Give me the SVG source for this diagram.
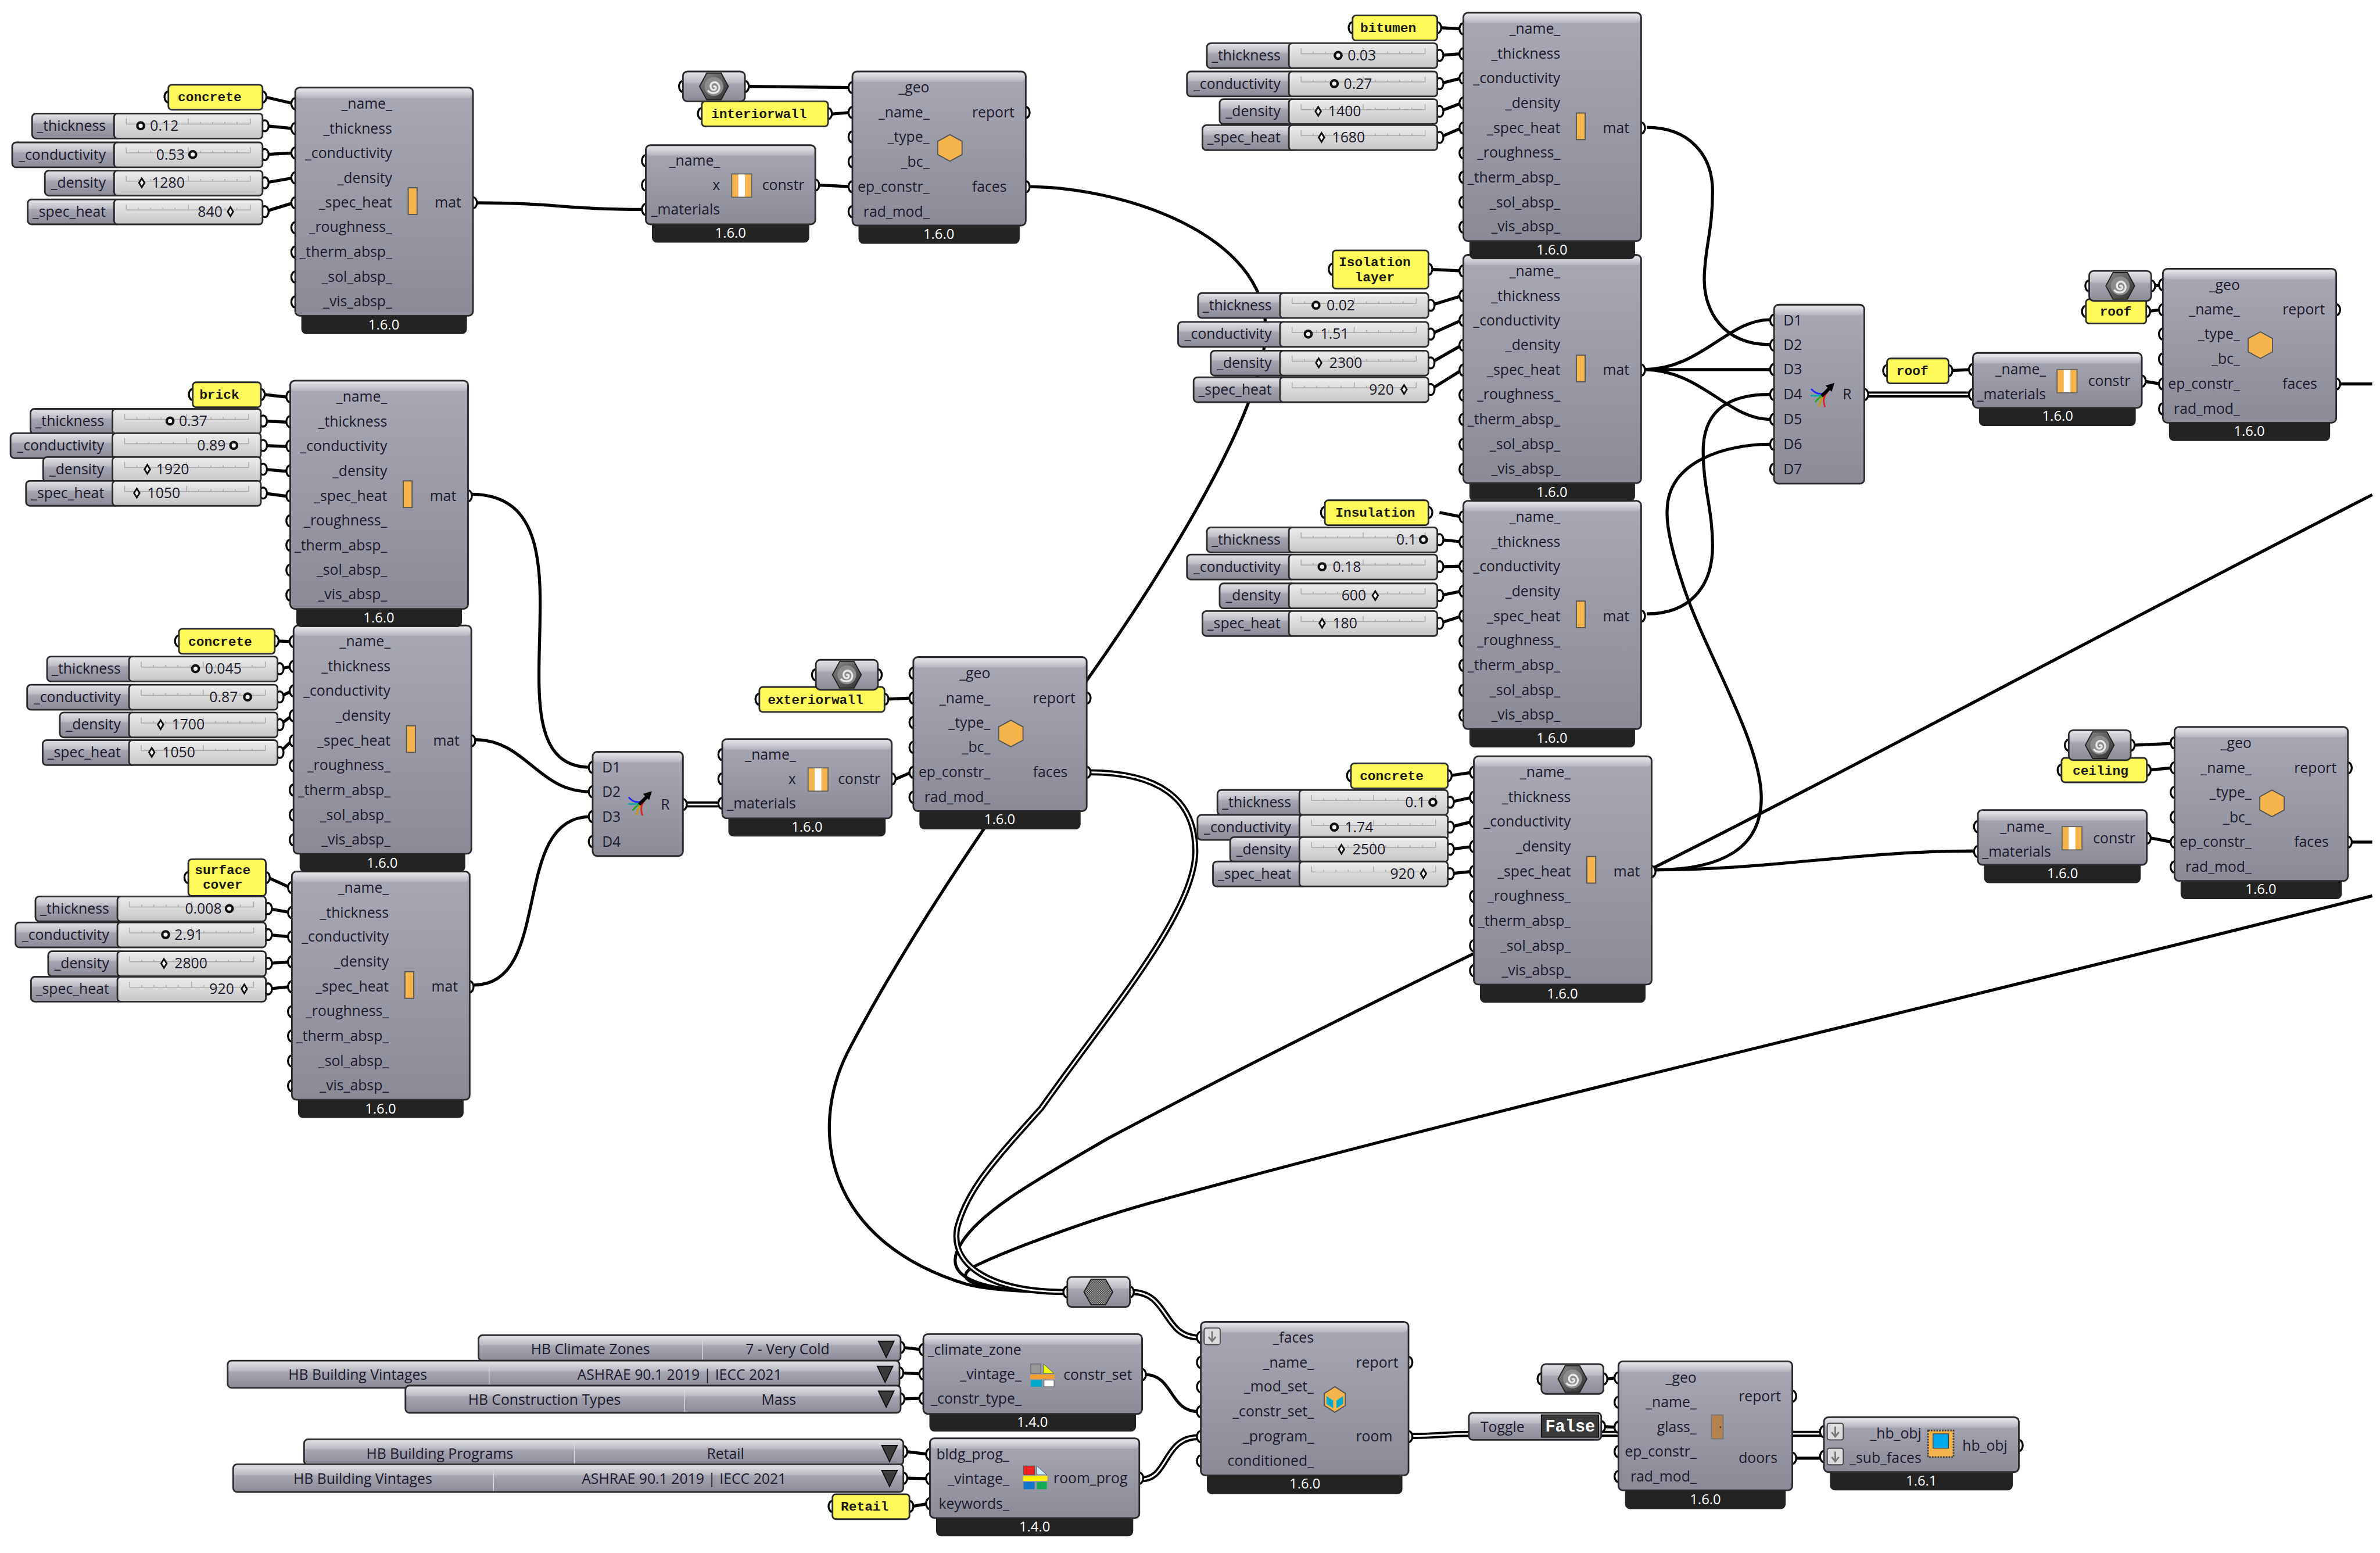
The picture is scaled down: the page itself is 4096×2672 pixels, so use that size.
<svg xmlns="http://www.w3.org/2000/svg" width="4096" height="2672" viewBox="0 0 4096 2672">
<style>
text{font-family:"Open Sans","Liberation Sans",sans-serif;font-size:26px;fill:#1c1a2c}
.e{text-anchor:end}
.m{text-anchor:middle}
.v{text-anchor:middle;fill:#fff;font-size:25px}
.y{font-family:"Liberation Mono","DejaVu Sans Mono",monospace;font-weight:bold;font-size:24px;fill:#1a1a10}
.n{font-size:26px}
.b{fill:url(#body);stroke:#2b2b2e;stroke-width:3}
.h{fill:url(#band)}
.f{fill:#232323;stroke:#232323;stroke-width:2}
.s{fill:url(#small);stroke:#2b2b2e;stroke-width:3}
.l{fill:url(#light);stroke:#2b2b2e;stroke-width:3}
.pn{fill:#fff95a;stroke:#2b2b2e;stroke-width:3}
.p{fill:#fff;stroke:#000;stroke-width:3.5}
.w{fill:none;stroke:#000;stroke-width:5.5}
.wo{fill:none;stroke:#000;stroke-width:11}
.wi{fill:none;stroke:#fff;stroke-width:3}
.o{fill:#f5b54c;stroke:#555;stroke-width:2}
.tk{fill:none;stroke:#a8a8a8;stroke-width:1.5}
.dv{stroke:#d8d8de;stroke-width:1.5}
</style>
<defs>
<linearGradient id="body" x1="0" y1="0" x2="0" y2="1"><stop offset="0" stop-color="#a9a9b6"/><stop offset="1" stop-color="#8b8b98"/></linearGradient>
<linearGradient id="band" x1="0" y1="0" x2="0" y2="1"><stop offset="0" stop-color="#e6e6ea"/><stop offset="1" stop-color="#b4b4bf"/></linearGradient>
<linearGradient id="small" x1="0" y1="0" x2="0" y2="1"><stop offset="0" stop-color="#e4e4e8"/><stop offset=".36" stop-color="#bcbcc5"/><stop offset=".42" stop-color="#a6a6b3"/><stop offset="1" stop-color="#8b8b98"/></linearGradient>
<linearGradient id="light" x1="0" y1="0" x2="0" y2="1"><stop offset="0" stop-color="#ededed"/><stop offset="1" stop-color="#c6c6c6"/></linearGradient>
<linearGradient id="hexg" x1="0" y1="0" x2="1" y2="1"><stop offset="0" stop-color="#8a8a8a"/><stop offset="1" stop-color="#2e2e2e"/></linearGradient>
<pattern id="chk" width="4" height="4" patternUnits="userSpaceOnUse"><rect width="4" height="4" fill="#444"/><rect width="2" height="2" fill="#aaa"/><rect x="2" y="2" width="2" height="2" fill="#999"/></pattern>
<ellipse id="p" class="p" rx="7" ry="10"/>
<circle id="r" r="6" fill="#fff" stroke="#111" stroke-width="4.5"/>
<path id="d" d="M0 -8L5 0L0 8L-5 0Z" fill="#fff" stroke="#111" stroke-width="3"/>
<path id="ticks" class="tk" d="M-246 19H-22M-246 9V19M-224 15V19M-202 15V19M-180 15V19M-158 15V19M-134 9V19M-112 15V19M-90 15V19M-68 15V19M-46 15V19M-22 9V19"/>
<g id="sT"><use href="#p" x="4" y="22"/><rect class="s" x="-416" y="0" width="160" height="45" rx="7"/><rect class="l" x="-268" y="0" width="268" height="45" rx="6"/><use href="#ticks"/></g>
<g id="sC"><use href="#p" x="4" y="22"/><rect class="s" x="-452" y="0" width="196" height="45" rx="7"/><rect class="l" x="-268" y="0" width="268" height="45" rx="6"/><use href="#ticks"/></g>
<g id="sD"><use href="#p" x="4" y="22"/><rect class="s" x="-393" y="0" width="137" height="45" rx="7"/><rect class="l" x="-268" y="0" width="268" height="45" rx="6"/><use href="#ticks"/></g>
<g id="sH"><use href="#p" x="4" y="22"/><rect class="s" x="-424" y="0" width="168" height="45" rx="7"/><rect class="l" x="-268" y="0" width="268" height="45" rx="6"/><use href="#ticks"/></g>
<g id="mb"><use href="#p" x="0" y="29"/><use href="#p" x="0" y="74"/><use href="#p" x="0" y="118"/><use href="#p" x="0" y="163"/><use href="#p" x="0" y="208"/><use href="#p" x="0" y="253"/><use href="#p" x="0" y="297"/><use href="#p" x="0" y="342"/><use href="#p" x="0" y="387"/><use href="#p" x="321" y="208"/>
<rect class="f" x="12" y="400" width="297" height="44" rx="8"/><rect class="b" width="321" height="412" rx="8"/><rect class="h" x="2" y="2" width="317" height="17" rx="6"/><rect class="o" x="204" y="181" width="16" height="48"/></g>
<g id="fb"><use href="#p" x="0" y="29"/><use href="#p" x="0" y="74"/><use href="#p" x="0" y="118"/><use href="#p" x="0" y="163"/><use href="#p" x="0" y="208"/><use href="#p" x="0" y="253"/><use href="#p" x="313" y="74"/><use href="#p" x="313" y="208"/>
<rect class="f" x="12" y="270" width="289" height="40" rx="8"/><rect class="b" width="313" height="278" rx="8"/><rect class="h" x="2" y="2" width="309" height="17" rx="6"/><path class="o" d="M176 114L198 126V150L176 162L154 150V126Z"/></g>
<g id="ci"><rect x="-18" y="-21" width="36" height="42" fill="#f5b54c" stroke="#666" stroke-width="2"/><rect x="-6" y="-20" width="12" height="40" fill="#fff"/></g>
<g id="cb"><use href="#p" x="0" y="28"/><use href="#p" x="0" y="72"/><use href="#p" x="0" y="116"/><use href="#p" x="306" y="72"/><rect class="f" x="12" y="135" width="282" height="40" rx="8"/><rect class="b" width="306" height="143" rx="8"/><rect class="h" x="2" y="2" width="302" height="17" rx="6"/><use href="#ci" x="173" y="73"/></g>
<g id="cs"><use href="#p" x="0" y="30"/><use href="#p" x="0" y="75"/><use href="#p" x="305" y="51"/><rect class="f" x="12" y="91" width="281" height="40" rx="8"/><rect class="b" width="305" height="99" rx="8"/><rect class="h" x="2" y="2" width="301" height="17" rx="6"/><use href="#ci" x="170" y="51"/></g>
<g id="sp"><path d="M-26 0L-13 -24H13L26 0L13 24H-13Z" fill="url(#hexg)" stroke="#222" stroke-width="2"/><circle r="17" fill="#8c8c8c"/><path d="M-1 1C3 -3 6 4 1 6C-6 8 -9 -3 -2 -7C6 -10 12 -1 9 6C6 13 -6 14 -11 7" fill="none" stroke="#e8e8e8" stroke-width="3.5"/></g>
<g id="gp"><use href="#p" x="0" y="27"/><use href="#p" x="112" y="27"/><rect class="s" width="112" height="54" rx="8"/><use href="#sp" x="56" y="27"/></g>
<path id="tri" d="M-14 0H14L0 29Z" fill="#3a3a3a" stroke="#111" stroke-width="2"/>
<g id="ar"><rect width="29" height="30" rx="4" fill="#dcdcdc" stroke="#444" stroke-width="2"/><path d="M14.500 6V23M8 16L14.500 24L21 16" fill="none" stroke="#777" stroke-width="3"/></g>
<g id="mi"><path d="M-17 -8Q-5 6 12 -2" fill="none" stroke="#22f" stroke-width="3"/><path d="M-18 4Q0 6 12 -2" fill="none" stroke="#1aa" stroke-width="3"/><path d="M-10 16Q0 4 12 -2" fill="none" stroke="#2a2" stroke-width="3"/><path d="M-3 24Q0 8 12 -2" fill="none" stroke="#c90" stroke-width="3"/><path d="M8 25Q2 8 12 -2" fill="none" stroke="#d22" stroke-width="3"/><path d="M2 5L18 -11" stroke="#000" stroke-width="6"/><path d="M25 -19L9 -14L20 -3Z"/></g>
<path id="w1" d="M1237 1452H1300"/>
<path id="w2" d="M3370 712H3558"/>
<path id="w3" d="M1965 1394C2090 1394 2160 1440 2158 1540C2155 1650 2000 1830 1880 2000C1790 2100 1745 2150 1728 2217C1715 2290 1800 2332 1922 2332"/>
<path id="w4" d="M2044 2332C2110 2332 2100 2414 2164 2414"/>
<path id="w5" d="M2061 2670C2110 2670 2100 2594 2164 2594"/>
<path id="w6" d="M2549 2592C2600 2592 2600 2588 2660 2588H3293"/>
</defs>
<rect width="4096" height="2672" fill="#fff"/>
<g transform="scale(.95322)">
<g id="connectors">
<path class="w" d="M478 175L530 187M478 227L530 232M478 279L530 276M478 330L530 321M478 382L530 366M475 712L520 717M475 760L520 762M475 804L520 806M475 847L520 851M475 890L520 896M500 1157L527 1158M505 1207L527 1203M505 1258L527 1247M505 1308L527 1292M505 1358L527 1337M484 1584L524 1602M484 1640L524 1647M484 1687L524 1691M484 1739L524 1736M484 1785L524 1781"/>
<path class="w" d="M2599 50L2639 52M2599 100L2639 97M2599 151L2639 141M2599 201L2639 186M2599 248L2639 231M2583 486L2639 489M2583 551L2639 534M2583 603L2639 578M2583 655L2639 623M2583 703L2639 668M2599 925L2639 933M2599 974L2639 978M2599 1023L2639 1022M2599 1075L2639 1067M2599 1125L2639 1112M2618 1400L2658 1394M2618 1448L2658 1439M2618 1493L2658 1483M2618 1533L2658 1528M2618 1577L2658 1573"/>
<path class="w" d="M1630 2432L1664 2436M1628 2478L1664 2480M1630 2525L1664 2524M1635 2620L1676 2625M1635 2668L1676 2669M1646 2719L1676 2714"/>
<path class="w" d="M1349 156L1535 158M1499 206L1535 203M1477 334L1535 337M1601 1262L1645 1260M1613 1408L1645 1394M3522 669L3558 667M3871 688L3901 693M3887 516L3901 515M3879 562L3901 559M3852 1345L3922 1342M3880 1390L3922 1386M3880 1512L3922 1520M2900 2489L2918 2487M2895 2575L2918 2576M3240 2632H3293M4222 693H4283M4243 1520H4283"/>
<path class="w" d="M858 366C1000 366 1020 378 1162 378"/>
<path class="w" d="M851 892C1100 892 860 1385 1066 1385"/>
<path class="w" d="M857 1335C950 1335 970 1429 1066 1429"/>
<path class="w" d="M856 1778C1000 1778 920 1474 1066 1474"/>
<path class="w" d="M1856 337C2020 337 2290 420 2285 600C2280 760 2060 1090 1963 1227C1850 1390 1660 1650 1530 1900C1460 2040 1490 2240 1745 2318C1790 2330 1860 2332 1922 2332"/>
<path class="w" d="M2973 230C3050 230 3092 280 3092 345C3092 420 3077 450 3077 505C3077 560 3110 622 3195 622"/>
<path class="w" d="M2968 667C3070 667 3120 577 3195 577M2968 667H3195M2968 667C3070 667 3120 757 3195 757"/>
<path class="w" d="M2973 1108C3050 1108 3092 1060 3092 985C3092 920 3075 880 3075 815C3075 750 3110 712 3195 712"/>
<path class="w" d="M2988 1570C3110 1570 3180 1530 3180 1440C3180 1340 3080 1180 3040 1060C3020 1000 3008 950 3010 920C3012 830 3120 802 3195 802"/>
<path class="w" d="M2988 1570C3200 1570 3350 1536 3567 1536"/>
<path class="w" d="M4283 893C3800 1140 3300 1410 2988 1565C2700 1700 2300 1895 2000 2055C1880 2125 1770 2185 1735 2245C1700 2300 1750 2332 1922 2332"/>
<path class="w" d="M4283 1617C3500 1815 2700 2000 2100 2165C1950 2205 1800 2265 1755 2288C1720 2310 1760 2332 1922 2332"/>
<path class="w" d="M2066 2481C2120 2481 2110 2548 2164 2548"/>
<use href="#w1" class="wo"/><use href="#w1" class="wi"/>
<use href="#w2" class="wo"/><use href="#w2" class="wi"/>
<use href="#w3" class="wo"/><use href="#w3" class="wi"/>
<use href="#w4" class="wo"/><use href="#w4" class="wi"/>
<use href="#w5" class="wo"/><use href="#w5" class="wi"/>
<use href="#w6" class="wo"/><use href="#w6" class="wi"/>
</g>

<g id="panel-concrete-1"><use href="#p" x="304" y="175"/><use href="#p" x="474" y="175"/><rect class="pn" x="304" y="153" width="170" height="45" rx="6"/><text class="y" x="321" y="183">concrete</text></g>
<g id="s1" ><g transform="translate(474,205)"><use href="#sT"/><text class="e n" x="-283" y="31">_thickness</text><use href="#r" x="-220" y="22"/><text class="n" x="-203" y="31">0.12</text></g>
<g transform="translate(474,257)"><use href="#sC"/><text class="e n" x="-283" y="31">_conductivity</text><text class="n" x="-192" y="31">0.53</text><use href="#r" x="-126" y="22"/></g>
<g transform="translate(474,308)"><use href="#sD"/><text class="e n" x="-283" y="31">_density</text><use href="#d" x="-218" y="22"/><text class="n" x="-200" y="31">1280</text></g>
<g transform="translate(474,360)"><use href="#sH"/><text class="e n" x="-283" y="31">_spec_heat</text><text class="n" x="-117" y="31">840</text><use href="#d" x="-58" y="22"/></g></g>
<g id="mat-1" transform="translate(533,158)"><use href="#mb"/><text class="e" x="175" y="38">_name_</text><text class="e" x="175" y="83">_thickness</text><text class="e" x="175" y="127">_conductivity</text><text class="e" x="175" y="172">_density</text><text class="e" x="175" y="217">_spec_heat</text><text class="e" x="175" y="261">_roughness_</text><text class="e" x="175" y="306">_therm_absp_</text><text class="e" x="175" y="351">_sol_absp_</text><text class="e" x="175" y="395">_vis_absp_</text><text x="252" y="217">mat</text><text class="v" x="160" y="437">1.6.0</text></g>

<g id="mat-4" transform="translate(527,1573)"><use href="#mb"/><text class="e" x="175" y="38">_name_</text><text class="e" x="175" y="83">_thickness</text><text class="e" x="175" y="127">_conductivity</text><text class="e" x="175" y="172">_density</text><text class="e" x="175" y="217">_spec_heat</text><text class="e" x="175" y="261">_roughness_</text><text class="e" x="175" y="306">_therm_absp_</text><text class="e" x="175" y="351">_sol_absp_</text><text class="e" x="175" y="395">_vis_absp_</text><text x="252" y="217">mat</text><text class="v" x="160" y="437">1.6.0</text></g>
<g id="mat-3" transform="translate(530,1129)"><use href="#mb"/><text class="e" x="175" y="38">_name_</text><text class="e" x="175" y="83">_thickness</text><text class="e" x="175" y="127">_conductivity</text><text class="e" x="175" y="172">_density</text><text class="e" x="175" y="217">_spec_heat</text><text class="e" x="175" y="261">_roughness_</text><text class="e" x="175" y="306">_therm_absp_</text><text class="e" x="175" y="351">_sol_absp_</text><text class="e" x="175" y="395">_vis_absp_</text><text x="252" y="217">mat</text><text class="v" x="160" y="437">1.6.0</text></g>
<g id="mat-2" transform="translate(524,687)"><use href="#mb"/><text class="e" x="175" y="38">_name_</text><text class="e" x="175" y="83">_thickness</text><text class="e" x="175" y="127">_conductivity</text><text class="e" x="175" y="172">_density</text><text class="e" x="175" y="217">_spec_heat</text><text class="e" x="175" y="261">_roughness_</text><text class="e" x="175" y="306">_therm_absp_</text><text class="e" x="175" y="351">_sol_absp_</text><text class="e" x="175" y="395">_vis_absp_</text><text x="252" y="217">mat</text><text class="v" x="160" y="437">1.6.0</text></g>

<g id="panel-brick"><use href="#p" x="348" y="712"/><use href="#p" x="471" y="712"/><rect class="pn" x="348" y="690" width="123" height="45" rx="6"/><text class="y" x="360" y="720">brick</text></g>
<g id="s2"><g transform="translate(471,738)"><use href="#sT"/><text class="e n" x="-283" y="31">_thickness</text><use href="#r" x="-164" y="22"/><text class="n" x="-148" y="31">0.37</text></g>
<g transform="translate(471,782)"><use href="#sC"/><text class="e n" x="-283" y="31">_conductivity</text><text class="n" x="-115" y="31">0.89</text><use href="#r" x="-49" y="22"/></g>
<g transform="translate(471,825)"><use href="#sD"/><text class="e n" x="-283" y="31">_density</text><use href="#d" x="-205" y="22"/><text class="n" x="-189" y="31">1920</text></g>
<g transform="translate(471,868)"><use href="#sH"/><text class="e n" x="-283" y="31">_spec_heat</text><use href="#d" x="-224" y="22"/><text class="n" x="-205" y="31">1050</text></g></g>

<g id="panel-concrete-3"><use href="#p" x="323" y="1157"/><use href="#p" x="496" y="1157"/><rect class="pn" x="323" y="1135" width="173" height="45" rx="6"/><text class="y" x="340" y="1165">concrete</text></g>
<g id="s3"><g transform="translate(501,1185)"><use href="#sT"/><text class="e n" x="-283" y="31">_thickness</text><use href="#r" x="-148" y="22"/><text class="n" x="-131" y="31">0.045</text></g>
<g transform="translate(501,1236)"><use href="#sC"/><text class="e n" x="-283" y="31">_conductivity</text><text class="n" x="-123" y="31">0.87</text><use href="#r" x="-54" y="22"/></g>
<g transform="translate(501,1286)"><use href="#sD"/><text class="e n" x="-283" y="31">_density</text><use href="#d" x="-211" y="22"/><text class="n" x="-191" y="31">1700</text></g>
<g transform="translate(501,1336)"><use href="#sH"/><text class="e n" x="-283" y="31">_spec_heat</text><use href="#d" x="-227" y="22"/><text class="n" x="-208" y="31">1050</text></g></g>

<g id="panel-surface"><use href="#p" x="340" y="1584"/><use href="#p" x="480" y="1584"/><rect class="pn" x="340" y="1551" width="140" height="66" rx="6"/><text class="y m" x="402" y="1578">surface</text><text class="y m" x="402" y="1604">cover</text></g>
<g id="s4"><g transform="translate(480,1618)"><use href="#sT"/><text class="e n" x="-283" y="31">_thickness</text><text class="n" x="-146" y="31">0.008</text><use href="#r" x="-66" y="22"/></g>
<g transform="translate(480,1665)"><use href="#sC"/><text class="e n" x="-283" y="31">_conductivity</text><use href="#r" x="-181" y="22"/><text class="n" x="-165" y="31">2.91</text></g>
<g transform="translate(480,1717)"><use href="#sD"/><text class="e n" x="-283" y="31">_density</text><use href="#d" x="-184" y="22"/><text class="n" x="-165" y="31">2800</text></g>
<g transform="translate(480,1763)"><use href="#sH"/><text class="e n" x="-283" y="31">_spec_heat</text><text class="n" x="-102" y="31">920</text><use href="#d" x="-39" y="22"/></g></g>

<g id="mat-8" transform="translate(2661,1365)"><use href="#mb"/><text class="e" x="175" y="38">_name_</text><text class="e" x="175" y="83">_thickness</text><text class="e" x="175" y="127">_conductivity</text><text class="e" x="175" y="172">_density</text><text class="e" x="175" y="217">_spec_heat</text><text class="e" x="175" y="261">_roughness_</text><text class="e" x="175" y="306">_therm_absp_</text><text class="e" x="175" y="351">_sol_absp_</text><text class="e" x="175" y="395">_vis_absp_</text><text x="252" y="217">mat</text><text class="v" x="160" y="437">1.6.0</text></g>
<g id="mat-7" transform="translate(2642,904)"><use href="#mb"/><text class="e" x="175" y="38">_name_</text><text class="e" x="175" y="83">_thickness</text><text class="e" x="175" y="127">_conductivity</text><text class="e" x="175" y="172">_density</text><text class="e" x="175" y="217">_spec_heat</text><text class="e" x="175" y="261">_roughness_</text><text class="e" x="175" y="306">_therm_absp_</text><text class="e" x="175" y="351">_sol_absp_</text><text class="e" x="175" y="395">_vis_absp_</text><text x="252" y="217">mat</text><text class="v" x="160" y="437">1.6.0</text></g>
<g id="mat-6" transform="translate(2642,460)"><use href="#mb"/><text class="e" x="175" y="38">_name_</text><text class="e" x="175" y="83">_thickness</text><text class="e" x="175" y="127">_conductivity</text><text class="e" x="175" y="172">_density</text><text class="e" x="175" y="217">_spec_heat</text><text class="e" x="175" y="261">_roughness_</text><text class="e" x="175" y="306">_therm_absp_</text><text class="e" x="175" y="351">_sol_absp_</text><text class="e" x="175" y="395">_vis_absp_</text><text x="252" y="217">mat</text><text class="v" x="160" y="437">1.6.0</text></g>
<g id="mat-5" transform="translate(2642,23)"><use href="#mb"/><text class="e" x="175" y="38">_name_</text><text class="e" x="175" y="83">_thickness</text><text class="e" x="175" y="127">_conductivity</text><text class="e" x="175" y="172">_density</text><text class="e" x="175" y="217">_spec_heat</text><text class="e" x="175" y="261">_roughness_</text><text class="e" x="175" y="306">_therm_absp_</text><text class="e" x="175" y="351">_sol_absp_</text><text class="e" x="175" y="395">_vis_absp_</text><text x="252" y="217">mat</text><text class="v" x="160" y="437">1.6.0</text></g>

<g id="panel-bitumen"><use href="#p" x="2442" y="50"/><use href="#p" x="2595" y="50"/><rect class="pn" x="2442" y="28" width="153" height="45" rx="6"/><text class="y" x="2456" y="58">bitumen</text></g>
<g id="s5"><g transform="translate(2595,78)"><use href="#sT"/><text class="e n" x="-283" y="31">_thickness</text><use href="#r" x="-179" y="22"/><text class="n" x="-162" y="31">0.03</text></g>
<g transform="translate(2595,129)"><use href="#sC"/><text class="e n" x="-283" y="31">_conductivity</text><use href="#r" x="-186" y="22"/><text class="n" x="-169" y="31">0.27</text></g>
<g transform="translate(2595,179)"><use href="#sD"/><text class="e n" x="-283" y="31">_density</text><use href="#d" x="-215" y="22"/><text class="n" x="-197" y="31">1400</text></g>
<g transform="translate(2595,226)"><use href="#sH"/><text class="e n" x="-283" y="31">_spec_heat</text><use href="#d" x="-209" y="22"/><text class="n" x="-190" y="31">1680</text></g></g>

<g id="panel-isolation"><use href="#p" x="2406" y="486"/><use href="#p" x="2579" y="486"/><rect class="pn" x="2406" y="452" width="173" height="69" rx="6"/><text class="y m" x="2482" y="480">Isolation</text><text class="y m" x="2482" y="508">layer</text></g>
<g id="s6"><g transform="translate(2579,529)"><use href="#sT"/><text class="e n" x="-283" y="31">_thickness</text><use href="#r" x="-203" y="22"/><text class="n" x="-184" y="31">0.02</text></g>
<g transform="translate(2579,581)"><use href="#sC"/><text class="e n" x="-283" y="31">_conductivity</text><use href="#r" x="-217" y="22"/><text class="n" x="-195" y="31">1.51</text></g>
<g transform="translate(2579,633)"><use href="#sD"/><text class="e n" x="-283" y="31">_density</text><use href="#d" x="-198" y="22"/><text class="n" x="-179" y="31">2300</text></g>
<g transform="translate(2579,681)"><use href="#sH"/><text class="e n" x="-283" y="31">_spec_heat</text><text class="n" x="-107" y="31">920</text><use href="#d" x="-44" y="22"/></g></g>

<g id="panel-insulation"><use href="#p" x="2392" y="925"/><use href="#p" x="2579" y="925"/><rect class="pn" x="2392" y="903" width="187" height="45" rx="6"/><text class="y" x="2411" y="933">Insulation</text></g>
<g id="s7"><g transform="translate(2595,952)"><use href="#sT"/><text class="e n" x="-283" y="31">_thickness</text><text class="n" x="-74" y="31">0.1</text><use href="#r" x="-25" y="22"/></g>
<g transform="translate(2595,1001)"><use href="#sC"/><text class="e n" x="-283" y="31">_conductivity</text><use href="#r" x="-208" y="22"/><text class="n" x="-189" y="31">0.18</text></g>
<g transform="translate(2595,1053)"><use href="#sD"/><text class="e n" x="-283" y="31">_density</text><text class="n" x="-173" y="31">600</text><use href="#d" x="-112" y="22"/></g>
<g transform="translate(2595,1103)"><use href="#sH"/><text class="e n" x="-283" y="31">_spec_heat</text><use href="#d" x="-208" y="22"/><text class="n" x="-189" y="31">180</text></g></g>

<g id="panel-concrete-8"><use href="#p" x="2439" y="1400"/><use href="#p" x="2614" y="1400"/><rect class="pn" x="2439" y="1378" width="175" height="45" rx="6"/><text class="y" x="2455" y="1408">concrete</text></g>
<g id="s8"><g transform="translate(2614,1426)"><use href="#sT"/><text class="e n" x="-283" y="31">_thickness</text><text class="n" x="-77" y="31">0.1</text><use href="#r" x="-27" y="22"/></g>
<g transform="translate(2614,1471)"><use href="#sC"/><text class="e n" x="-283" y="31">_conductivity</text><use href="#r" x="-205" y="22"/><text class="n" x="-186" y="31">1.74</text></g>
<g transform="translate(2614,1511)"><use href="#sD"/><text class="e n" x="-283" y="31">_density</text><use href="#d" x="-192" y="22"/><text class="n" x="-172" y="31">2500</text></g>
<g transform="translate(2614,1555)"><use href="#sH"/><text class="e n" x="-283" y="31">_spec_heat</text><text class="n" x="-104" y="31">920</text><use href="#d" x="-44" y="22"/></g></g>

<g id="panel-interiorwall"><use href="#p" x="1267" y="205"/><use href="#p" x="1495" y="205"/><rect class="pn" x="1267" y="183" width="228" height="45" rx="6"/><text class="y" x="1284" y="213">interiorwall</text></g>
<g id="geo-interior"><use href="#gp" x="1233" y="129"/></g>
<g id="constr-interior" transform="translate(1166,262)"><use href="#cb"/><text class="e" x="134" y="37">_name_</text><text class="e" x="134" y="81">x</text><text class="e" x="134" y="125">_materials</text><text x="210" y="81">constr</text><text class="v" x="153" y="167">1.6.0</text></g>
<g id="face-interior" transform="translate(1539,129)"><use href="#fb"/><text class="e" x="139" y="38">_geo</text><text class="e" x="139" y="83">_name_</text><text class="e" x="139" y="127">_type_</text><text class="e" x="139" y="172">_bc_</text><text class="e" x="139" y="217">ep_constr_</text><text class="e" x="139" y="262">rad_mod_</text><text x="216" y="83">report</text><text x="216" y="217">faces</text><text class="v" x="156" y="302">1.6.0</text></g>

<g id="merge-ext"><use href="#p" x="1070" y="1385"/><use href="#p" x="1070" y="1429"/><use href="#p" x="1070" y="1474"/><use href="#p" x="1070" y="1519"/><use href="#p" x="1233" y="1452"/><rect class="b" x="1070" y="1357" width="163" height="188" rx="8"/><rect class="h" x="1072" y="1359" width="159" height="17" rx="6"/><text x="1087" y="1394">D1</text><text x="1087" y="1438">D2</text><text x="1087" y="1483">D3</text><text x="1087" y="1528">D4</text><use href="#mi" x="1152" y="1447"/><text x="1193" y="1461">R</text></g>
<g id="constr-ext" transform="translate(1304,1334)"><use href="#cb"/><text class="e" x="133" y="37">_name_</text><text class="e" x="133" y="81">x</text><text class="e" x="133" y="125">_materials</text><text x="209" y="81">constr</text><text class="v" x="153" y="167">1.6.0</text></g>
<g id="panel-exteriorwall"><use href="#p" x="1371" y="1262"/><use href="#p" x="1597" y="1262"/><rect class="pn" x="1371" y="1240" width="226" height="45" rx="6"/><text class="y" x="1386" y="1270">exteriorwall</text></g>
<g id="geo-ext"><use href="#gp" x="1473" y="1191"/></g>
<g id="face-ext" transform="translate(1649,1186)"><use href="#fb"/><text class="e" x="139" y="38">_geo</text><text class="e" x="139" y="83">_name_</text><text class="e" x="139" y="127">_type_</text><text class="e" x="139" y="172">_bc_</text><text class="e" x="139" y="217">ep_constr_</text><text class="e" x="139" y="262">rad_mod_</text><text x="216" y="83">report</text><text x="216" y="217">faces</text><text class="v" x="156" y="302">1.6.0</text></g>

<g id="merge-roof"><use href="#p" x="3203" y="578"/><use href="#p" x="3203" y="623"/><use href="#p" x="3203" y="667"/><use href="#p" x="3203" y="712"/><use href="#p" x="3203" y="757"/><use href="#p" x="3203" y="802"/><use href="#p" x="3203" y="847"/><use href="#p" x="3366" y="712"/><rect class="b" x="3203" y="550" width="163" height="323" rx="8"/><rect class="h" x="3205" y="552" width="159" height="17" rx="6"/><text x="3220" y="587">D1</text><text x="3220" y="632">D2</text><text x="3220" y="676">D3</text><text x="3220" y="721">D4</text><text x="3220" y="766">D5</text><text x="3220" y="811">D6</text><text x="3220" y="856">D7</text><use href="#mi" x="3287" y="710"/><text x="3327" y="721">R</text></g>
<g id="panel-roof-1"><use href="#p" x="3407" y="669"/><use href="#p" x="3518" y="669"/><rect class="pn" x="3407" y="647" width="111" height="45" rx="6"/><text class="y" x="3424" y="677">roof</text></g>
<g id="constr-roof" transform="translate(3562,637)"><use href="#cs"/><text class="e" x="132" y="39">_name_</text><text class="e" x="132" y="84">_materials</text><text x="208" y="60">constr</text><text class="v" x="153" y="123">1.6.0</text></g>
<g id="panel-roof-2"><use href="#p" x="3766" y="562"/><use href="#p" x="3875" y="562"/><rect class="pn" x="3766" y="540" width="109" height="44" rx="6"/><text class="y" x="3791" y="570">roof</text></g>
<g id="geo-roof"><use href="#gp" x="3772" y="489"/></g>
<g id="face-roof" transform="translate(3905,485)"><use href="#fb"/><text class="e" x="139" y="38">_geo</text><text class="e" x="139" y="83">_name_</text><text class="e" x="139" y="127">_type_</text><text class="e" x="139" y="172">_bc_</text><text class="e" x="139" y="217">ep_constr_</text><text class="e" x="139" y="262">rad_mod_</text><text x="216" y="83">report</text><text x="216" y="217">faces</text><text class="v" x="156" y="302">1.6.0</text></g>

<g id="panel-ceiling"><use href="#p" x="3722" y="1390"/><use href="#p" x="3876" y="1390"/><rect class="pn" x="3722" y="1368" width="154" height="44" rx="6"/><text class="y" x="3742" y="1398">ceiling</text></g>
<g id="geo-ceiling"><use href="#gp" x="3735" y="1318"/></g>
<g id="constr-ceiling" transform="translate(3571,1462)"><use href="#cs"/><text class="e" x="132" y="39">_name_</text><text class="e" x="132" y="84">_materials</text><text x="208" y="60">constr</text><text class="v" x="153" y="123">1.6.0</text></g>
<g id="face-ceiling" transform="translate(3926,1312)"><use href="#fb"/><text class="e" x="139" y="38">_geo</text><text class="e" x="139" y="83">_name_</text><text class="e" x="139" y="127">_type_</text><text class="e" x="139" y="172">_bc_</text><text class="e" x="139" y="217">ep_constr_</text><text class="e" x="139" y="262">rad_mod_</text><text x="216" y="83">report</text><text x="216" y="217">faces</text><text class="v" x="156" y="302">1.6.0</text></g>

<g id="hex-param"><use href="#p" x="1927" y="2332"/><use href="#p" x="2040" y="2332"/><rect class="s" x="1927" y="2305" width="113" height="54" rx="8"/><path d="M1957 2332L1970 2309H1996L2009 2332L1996 2355H1970Z" fill="url(#chk)" stroke="#222" stroke-width="2"/></g>

<g id="dd-climate"><use href="#p" x="1626" y="2432"/><rect class="s" x="864" y="2410" width="762" height="46" rx="7"/><path class="dv" d="M1268 2412V2454"/><text class="m" x="1066" y="2444">HB Climate Zones</text><text class="m" x="1422" y="2444">7 - Very Cold</text><use href="#tri" x="1600" y="2421"/></g>
<g id="dd-vintage-1"><use href="#p" x="1624" y="2478"/><rect class="s" x="411" y="2456" width="1213" height="49" rx="7"/><path class="dv" d="M883 2458V2503"/><text class="m" x="646" y="2490">HB Building Vintages</text><text class="m" x="1227" y="2490">ASHRAE 90.1 2019  |  IECC 2021</text><use href="#tri" x="1598" y="2466"/></g>
<g id="dd-types"><use href="#p" x="1626" y="2525"/><rect class="s" x="732" y="2501" width="894" height="49" rx="7"/><path class="dv" d="M1236 2503V2548"/><text class="m" x="983" y="2536">HB Construction Types</text><text class="m" x="1406" y="2536">Mass</text><use href="#tri" x="1600" y="2511"/></g>
<g id="dd-programs"><use href="#p" x="1631" y="2620"/><rect class="s" x="549" y="2598" width="1082" height="46" rx="7"/><path class="dv" d="M1037 2600V2642"/><text class="m" x="794" y="2633">HB Building Programs</text><text class="m" x="1310" y="2633">Retail</text><use href="#tri" x="1606" y="2609"/></g>
<g id="dd-vintage-2"><use href="#p" x="1631" y="2668"/><rect class="s" x="421" y="2643" width="1210" height="50" rx="7"/><path class="dv" d="M891 2645V2691"/><text class="m" x="655" y="2678">HB Building Vintages</text><text class="m" x="1235" y="2678">ASHRAE 90.1 2019  |  IECC 2021</text><use href="#tri" x="1606" y="2654"/></g>
<g id="panel-retail"><use href="#p" x="1503" y="2719"/><use href="#p" x="1642" y="2719"/><rect class="pn" x="1503" y="2697" width="139" height="45" rx="6"/><text class="y" x="1518" y="2727">Retail</text></g>

<g id="constr-set"><use href="#p" x="1667" y="2436"/><use href="#p" x="1667" y="2480"/><use href="#p" x="1667" y="2524"/><use href="#p" x="2062" y="2481"/><rect class="f" x="1679" y="2543" width="371" height="40" rx="8"/><rect class="b" x="1667" y="2408" width="395" height="144" rx="8"/><rect class="h" x="1669" y="2410" width="391" height="17" rx="6"/><text class="e" x="1844" y="2445">_climate_zone</text><text class="e" x="1844" y="2489">_vintage_</text><text class="e" x="1844" y="2533">_constr_type_</text><rect x="1861" y="2462" width="18" height="17" fill="#999" stroke="#555"/><path d="M1884 2462L1903 2479H1884Z" fill="#ef0" stroke="#555"/><rect x="1860" y="2481" width="44" height="8" fill="#f5a030"/><rect x="1861" y="2491" width="20" height="12" fill="#0ac"/><rect x="1885" y="2491" width="18" height="12" fill="#fff" stroke="#555"/><text x="1920" y="2490">constr_set</text><text class="v" x="1864" y="2575">1.4.0</text></g>
<g id="room-prog"><use href="#p" x="1679" y="2625"/><use href="#p" x="1679" y="2669"/><use href="#p" x="1679" y="2714"/><use href="#p" x="2057" y="2668"/><rect class="f" x="1691" y="2731" width="354" height="41" rx="8"/><rect class="b" x="1679" y="2596" width="378" height="144" rx="8"/><rect class="h" x="1681" y="2598" width="374" height="17" rx="6"/><text class="e" x="1822" y="2634">bldg_prog_</text><text class="e" x="1822" y="2678">_vintage_</text><text class="e" x="1822" y="2723">keywords_</text><rect x="1848" y="2646" width="20" height="16" fill="#e22" stroke="#555"/><path d="M1872 2646L1890 2662H1872Z" fill="#cef" stroke="#555"/><rect x="1847" y="2664" width="44" height="9" fill="#fe0"/><rect x="1848" y="2675" width="20" height="13" fill="#17c"/><rect x="1872" y="2675" width="18" height="13" fill="#1a5"/><text x="1902" y="2677">room_prog</text><text class="v" x="1868" y="2764">1.4.0</text></g>

<g id="room"><use href="#p" x="2168" y="2414"/><use href="#p" x="2168" y="2459"/><use href="#p" x="2168" y="2503"/><use href="#p" x="2168" y="2548"/><use href="#p" x="2168" y="2593"/><use href="#p" x="2168" y="2637"/><use href="#p" x="2543" y="2459"/><use href="#p" x="2543" y="2593"/><rect class="f" x="2180" y="2654" width="351" height="42" rx="8"/><rect class="b" x="2168" y="2386" width="375" height="277" rx="8"/><rect class="h" x="2170" y="2388" width="371" height="17" rx="6"/><use href="#ar" x="2174" y="2397"/><text class="e" x="2372" y="2423">_faces</text><text class="e" x="2372" y="2468">_name_</text><text class="e" x="2372" y="2512">_mod_set_</text><text class="e" x="2372" y="2557">_constr_set_</text><text class="e" x="2372" y="2602">_program_</text><text class="e" x="2372" y="2646">conditioned_</text><path class="o" d="M2410 2503L2429 2515V2537L2410 2549L2391 2537V2515Z"/><path d="M2395 2520L2407 2528V2542L2395 2534ZM2425 2520L2413 2528V2542L2425 2534Z" fill="#0ac"/><text x="2448" y="2468">report</text><text x="2448" y="2602">room</text><text class="v" x="2356" y="2687">1.6.0</text></g>

<g id="toggle"><use href="#p" x="2891" y="2575"/><rect class="s" x="2652" y="2550" width="239" height="49" rx="7"/><text x="2673" y="2585">Toggle</text><rect x="2783" y="2554" width="103" height="40" fill="#3a3a3a" stroke="#111" stroke-width="2"/><text class="y" x="2790" y="2584" style="fill:#fff;font-size:30px">False</text></g>
<g id="geo-door"><use href="#gp" x="2783" y="2462"/></g>
<g id="door"><use href="#p" x="2922" y="2487"/><use href="#p" x="2922" y="2531"/><use href="#p" x="2922" y="2576"/><use href="#p" x="2922" y="2620"/><use href="#p" x="2922" y="2665"/><use href="#p" x="3236" y="2520"/><use href="#p" x="3236" y="2632"/><rect class="f" x="2935" y="2683" width="288" height="40" rx="8"/><rect class="b" x="2922" y="2457" width="314" height="233" rx="8"/><rect class="h" x="2924" y="2459" width="310" height="17" rx="6"/><text class="e" x="3063" y="2496">_geo</text><text class="e" x="3063" y="2540">_name_</text><text class="e" x="3063" y="2585">glass_</text><text class="e" x="3063" y="2629">ep_constr_</text><text class="e" x="3063" y="2674">rad_mod_</text><rect x="3090" y="2554" width="21" height="43" fill="#b5814f" stroke="#777" stroke-width="2"/><circle cx="3106" cy="2576" r="1.500" fill="#333"/><text x="3139" y="2529">report</text><text x="3139" y="2641">doors</text><text class="v" x="3079" y="2715">1.6.0</text></g>
<g id="hb-obj"><use href="#p" x="3293" y="2584"/><use href="#p" x="3293" y="2629"/><use href="#p" x="3645" y="2609"/><rect class="f" x="3305" y="2650" width="328" height="39" rx="8"/><rect class="b" x="3293" y="2558" width="352" height="99" rx="8"/><rect class="h" x="3295" y="2560" width="348" height="17" rx="6"/><use href="#ar" x="3299" y="2569"/><use href="#ar" x="3299" y="2614"/><text class="e" x="3469" y="2596">_hb_obj</text><text class="e" x="3469" y="2641">_sub_faces</text><rect x="3481" y="2582" width="46" height="48" fill="#f5b54c" stroke="#444" stroke-width="3" stroke-dasharray="3 2"/><rect x="3490" y="2588" width="28" height="26" fill="#00a8ec" stroke="#444" stroke-width="1.500"/><text x="3543" y="2618">hb_obj</text><text class="v" x="3469" y="2681">1.6.1</text></g>
</g>
</svg>
